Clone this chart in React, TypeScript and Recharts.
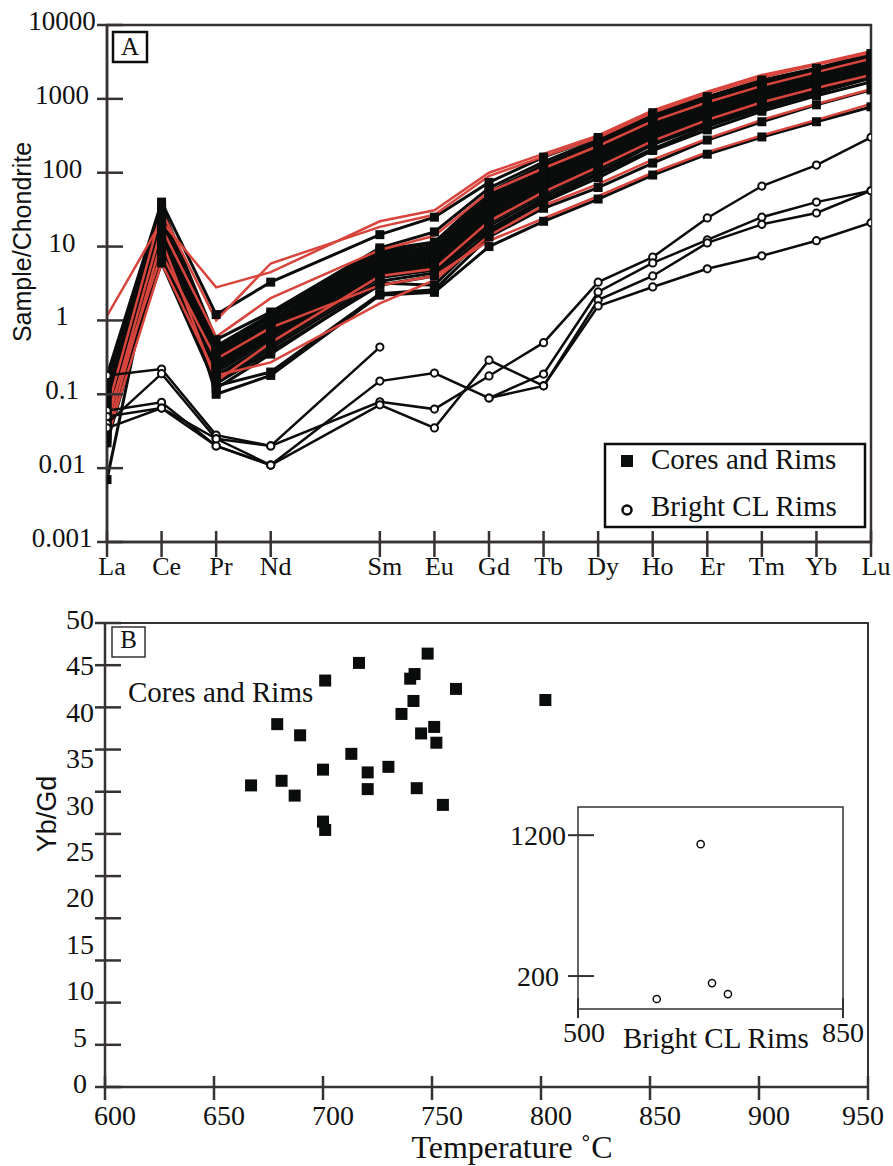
import React from 'react'
import { LineChart, Line, XAxis, YAxis, ScatterChart, Scatter, ReferenceArea } from 'recharts'

// REE pattern (panel A)
const elements = ['La', 'Ce', 'Pr', 'Nd', 'Sm', 'Eu', 'Gd', 'Tb', 'Dy', 'Ho', 'Er', 'Tm', 'Yb', 'Lu']
const elementPos = [0, 1, 2, 3, 5, 6, 7, 8, 9, 10, 11, 12, 13, 14] // gap left for Pm
const yTicksA = [0.001, 0.01, 0.1, 1, 10, 100, 1000, 10000]

const coresAndRims: number[][] = [
  [0.18, 40, 1.2, 3.3, 14.5, 25, 74, 163, 300, 650, 1070, 1800, 2600, 4100],
  [0.15, 35, 0.55, 1.3, 9.6, 15.8, 62, 140, 280, 600, 1000, 1700, 2500, 3900],
  [0.13, 32, 0.45, 1.2, 9.0, 11.5, 55, 128, 260, 570, 960, 1600, 2400, 3700],
  [0.12, 30, 0.42, 1.15, 8.5, 11, 50, 120, 245, 540, 920, 1550, 2300, 3600],
  [0.1, 27, 0.4, 1.1, 8.0, 10, 46, 110, 230, 510, 880, 1500, 2200, 3400],
  [0.09, 25, 0.37, 1.0, 7.5, 9.5, 43, 102, 215, 480, 840, 1420, 2100, 3300],
  [0.08, 22, 0.35, 0.95, 7.0, 9, 40, 96, 200, 450, 800, 1350, 2000, 3100],
  [0.07, 20, 0.33, 0.9, 6.6, 8.5, 37, 90, 190, 430, 760, 1300, 1900, 3000],
  [0.06, 18, 0.3, 0.85, 6.2, 8, 35, 85, 180, 410, 730, 1250, 1850, 2900],
  [0.055, 16, 0.28, 0.8, 5.8, 7.5, 33, 80, 170, 390, 700, 1200, 1800, 2800],
  [0.05, 15, 0.27, 0.75, 5.5, 7, 31, 76, 162, 370, 670, 1150, 1750, 2700],
  [0.045, 14, 0.25, 0.7, 5.2, 6.6, 29, 72, 155, 350, 640, 1100, 1700, 2600],
  [0.04, 13, 0.23, 0.65, 5.0, 6.2, 27, 68, 148, 335, 610, 1060, 1620, 2500],
  [0.035, 12, 0.22, 0.6, 4.7, 5.8, 25, 63, 140, 320, 580, 1000, 1550, 2400],
  [0.03, 11, 0.2, 0.55, 4.4, 5.5, 23, 58, 130, 300, 550, 950, 1480, 2300],
  [0.028, 10, 0.18, 0.5, 4.1, 5.2, 21, 53, 120, 280, 520, 900, 1400, 2200],
  [0.025, 9, 0.17, 0.46, 3.8, 4.8, 19, 48, 110, 260, 490, 850, 1330, 2100],
  [0.022, 8, 0.15, 0.42, 3.4, 4.4, 17, 44, 100, 240, 450, 800, 1250, 2000],
  [0.03, 7, 0.14, 0.38, 3.0, 4.0, 15, 40, 85, 200, 380, 680, 1100, 1700],
  [0.04, 6, 0.13, 0.2, 2.3, 2.6, 13.5, 33, 63, 135, 277, 490, 830, 1320],
  [0.007, 25, 0.1, 0.18, 2.2, 2.4, 10, 22, 44, 93, 178, 305, 490, 780],
  [0.05, 12, 0.12, 0.35, 3.2, 3.0, 16, 42, 95, 210, 420, 740, 1200, 1900],
]

const redLines: number[][] = [
  [1.15, 22, 2.8, 4.5, 22, 31, 100, 180, 320, 700, 1250, 2100, 3000, 4400],
  [0.06, 30, 1.0, 5.9, 18.5, 27, 90, 165, 300, 650, 1180, 1950, 2900, 4200],
  [0.04, 18, 0.6, 2.0, 9, 14, 55, 115, 230, 500, 900, 1500, 2300, 3500],
  [0.03, 12, 0.15, 0.5, 4, 5, 22, 55, 120, 270, 520, 900, 1400, 2100],
  [0.025, 6, 0.18, 0.27, 1.7, 3.5, 14, 36, 70, 150, 290, 520, 850, 1350],
  [0.05, 8, 0.3, 0.8, 3, 4, 12, 24, 48, 100, 190, 320, 520, 850],
]

const brightRims: (number | null)[][] = [
  [0.18, 0.22, 0.028, 0.02, 0.436, null, null, null, null, null, null, null, null, null],
  [0.04, 0.19, 0.025, 0.02, 0.079, 0.063, 0.177, 0.5, 3.3, 7.2, 24.4, 66, 127, 302],
  [0.06, 0.078, 0.02, 0.011, 0.151, 0.194, 0.089, 0.188, 2.43, 6.0, 12.3, 25, 40, 57],
  [0.035, 0.065, 0.02, 0.011, 0.072, 0.035, 0.29, 0.13, 1.89, 4.0, 11.2, 20, 28.5, 57],
  [0.05, 0.065, 0.025, 0.011, null, null, 0.089, 0.13, 1.57, 2.84, 5.0, 7.5, 12, 21],
]

// Yb/Gd vs temperature (panel B)
const tempTicks = [600, 650, 700, 750, 800, 850, 900, 950]
const ratioTicks = [0, 5, 10, 15, 20, 25, 30, 35, 40, 45, 50]
const tickMarksB = [0, 5, 10, 15, 20, 25, 30, 35, 40, 45, 50, 55]
const coresTemp = [667, 679, 681, 687, 689.5, 701, 700, 700, 701, 713, 716.5, 720.5, 720.5, 730, 736, 740, 742, 741.5, 745, 743, 748, 751, 752, 755, 761, 802]
const coresRatio = [32.5, 39.1, 33.0, 31.4, 37.9, 43.8, 34.2, 28.6, 27.7, 35.9, 45.7, 33.9, 32.1, 34.5, 40.2, 44.0, 44.5, 41.6, 38.1, 32.2, 46.7, 38.8, 37.1, 30.4, 42.9, 41.7]

// inset: Bright CL rims
const insetXTicks = [500, 850]
const insetYTicks = [200, 1200]
const rimsTemp = [604, 662, 677, 698]
const rimsValue = [37, 1136, 150, 72]

const INK = '#0b0d0d'
const AXIS = '#363233'
const RED = '#d8453d'
const SERIF = '"Liberation Serif", "Times New Roman", serif'
const SANS = '"Liberation Sans", Arial, sans-serif'

const reeRows = elements.map((_, i) => {
  const row: Record<string, number | null> = { x: elementPos[i] }
  coresAndRims.forEach((s, j) => (row['core' + j] = s[i]))
  redLines.forEach((s, j) => (row['red' + j] = s[i]))
  brightRims.forEach((s, j) => (row['rim' + j] = s[i]))
  return row
})
const coreRows = coresTemp.map((t, i) => ({ x: t, y: coresRatio[i] }))
const rimRows = rimsTemp.map((t, i) => ({ x: t, y: rimsValue[i] }))

const LogTick = (p: any) => {
  const { x, y, payload } = p
  return (
    <g>
      <line x1={x - 10} x2={x + 16} y1={y} y2={y} stroke={AXIS} strokeWidth={2.5} />
      <text x={x - 45} y={y + 5} textAnchor="middle" fontFamily={SERIF} fontSize={27} fill="#111">
        {String(payload.value)}
      </text>
    </g>
  )
}

const ReeTick = (p: any) => {
  const { x, y, payload } = p
  const name = elements[elementPos.indexOf(payload.value)]
  return (
    <g>
      <line x1={x} x2={x} y1={y - 11} y2={y + 15} stroke={AXIS} strokeWidth={2.5} />
      <text x={x + 5} y={y + 33} textAnchor="middle" fontFamily={SERIF} fontSize={26} fill="#111">
        {name}
      </text>
    </g>
  )
}

const TempTick = (p: any) => {
  const { x, y, payload } = p
  return (
    <g>
      <line x1={x} x2={x} y1={y - 11} y2={y + 13} stroke={AXIS} strokeWidth={2.5} />
      <text x={payload.value === 950 ? x - 5 : x + 10} y={y + 38} textAnchor="middle" fontFamily={SERIF} fontSize={28} fill="#111">
        {payload.value}
      </text>
    </g>
  )
}

const MarkTick = (p: any) => {
  const { x, y } = p
  return <line x1={x - 10} x2={x + 16} y1={y} y2={y} stroke={AXIS} strokeWidth={2.5} />
}

const RatioTick = (p: any) => {
  const { x, y, payload } = p
  return (
    <text x={x - 24} y={y + 6} textAnchor="middle" fontFamily={SERIF} fontSize={28} fill="#111">
      {payload.value}
    </text>
  )
}

const InsetYTick = (p: any) => {
  const { x, y, payload } = p
  return (
    <g>
      <line x1={x - 10} x2={x + 16} y1={y} y2={y} stroke={AXIS} strokeWidth={2} />
      <text x={x - 40} y={y + 10} textAnchor="middle" fontFamily={SERIF} fontSize={28} fill="#111">
        {payload.value}
      </text>
    </g>
  )
}

const InsetXTick = (p: any) => {
  const { x, y, payload } = p
  return (
    <g>
      <line x1={x} x2={x} y1={y - 11} y2={y + 9} stroke={AXIS} strokeWidth={2} />
      <text x={payload.value === 500 ? x + 6 : x} y={y + 33} textAnchor="middle" fontFamily={SERIF} fontSize={28} fill="#111">
        {payload.value}
      </text>
    </g>
  )
}

const SquareDot = (p: any) => {
  const { cx, cy } = p
  if (cx == null || cy == null) return <g />
  return <rect x={cx - 4.5} y={cy - 4.5} width={9} height={9} fill={INK} />
}

const CircleDot = (p: any) => {
  const { cx, cy } = p
  if (cx == null || cy == null) return <g />
  return <circle cx={cx} cy={cy} r={3.6} fill="#fff" stroke={INK} strokeWidth={2} />
}

const SquareMark = (p: any) => <rect x={p.cx - 6} y={p.cy - 6} width={12} height={12} fill={INK} />
const OpenMark = (p: any) => <circle cx={p.cx} cy={p.cy} r={3.6} fill="#fff" stroke={INK} strokeWidth={1.5} />

export default function App() {
  return (
    <div style={{ position: 'absolute', left: 0, top: 0, width: 893, height: 1166, background: '#fff' }}>
      <div style={{ position: 'absolute', left: 0, top: 0 }}>
        <LineChart width={893} height={590} data={reeRows} margin={{ top: 25, right: 22, bottom: 8, left: 47 }}>
          <XAxis
            type="number"
            dataKey="x"
            domain={[0, 14]}
            ticks={elementPos}
            interval={0}
            allowDataOverflow
            height={40}
            tickSize={0}
            tickMargin={0}
            tickLine={false}
            axisLine={{ stroke: AXIS, strokeWidth: 2.5 }}
            tick={ReeTick}
          />
          <YAxis
            type="number"
            scale="log"
            domain={[0.001, 10000]}
            ticks={yTicksA}
            interval={0}
            allowDataOverflow
            width={60}
            tickSize={0}
            tickMargin={0}
            tickLine={false}
            axisLine={{ stroke: AXIS, strokeWidth: 2.5 }}
            tick={LogTick}
          />
          <ReferenceArea x1={0} x2={14} y1={0.001} y2={10000} fill="none" stroke={AXIS} strokeWidth={2.5} ifOverflow="visible" />
          {coresAndRims.map((_, j) => (
            <Line key={'core' + j} dataKey={'core' + j} stroke={INK} strokeWidth={3} dot={SquareDot} isAnimationActive={false} />
          ))}
          {redLines.map((_, j) => (
            <Line key={'red' + j} dataKey={'red' + j} stroke={RED} strokeWidth={2.5} dot={false} isAnimationActive={false} />
          ))}
          {brightRims.map((_, j) => (
            <Line key={'rim' + j} dataKey={'rim' + j} stroke={INK} strokeWidth={2.5} dot={CircleDot} isAnimationActive={false} />
          ))}
        </LineChart>
      </div>

      <div style={{ position: 'absolute', left: 0, top: 580 }}>
        <ScatterChart width={893} height={586} margin={{ top: 43, right: 25, bottom: 39, left: 44 }}>
          <XAxis
            type="number"
            dataKey="x"
            domain={[600, 950]}
            ticks={tempTicks}
            interval={0}
            allowDataOverflow
            height={40}
            tickSize={0}
            tickMargin={0}
            tickLine={false}
            axisLine={{ stroke: AXIS, strokeWidth: 2.5 }}
            tick={TempTick}
          />
          <YAxis
            yAxisId="marks"
            type="number"
            domain={[0, 55]}
            ticks={tickMarksB}
            interval={0}
            allowDataOverflow
            width={1}
            tickSize={0}
            tickMargin={0}
            tickLine={false}
            axisLine={{ stroke: AXIS, strokeWidth: 2.5 }}
            tick={MarkTick}
          />
          <YAxis
            yAxisId="ratio"
            type="number"
            dataKey="y"
            domain={[0, 50]}
            ticks={ratioTicks}
            interval={0}
            allowDataOverflow
            width={60}
            tickSize={0}
            tickMargin={0}
            tickLine={false}
            axisLine={false}
            tick={RatioTick}
          />
          <ReferenceArea yAxisId="ratio" x1={600} x2={950} y1={0} y2={50} fill="none" stroke={AXIS} strokeWidth={2} ifOverflow="visible" />
          <Scatter yAxisId="ratio" data={coreRows} shape={SquareMark} isAnimationActive={false} />
        </ScatterChart>
      </div>

      <div style={{ position: 'absolute', left: 490, top: 795 }}>
        <ScatterChart width={400} height={260} margin={{ top: 12, right: 47, bottom: 16, left: 0 }}>
          <XAxis
            type="number"
            dataKey="x"
            domain={[500, 850]}
            ticks={insetXTicks}
            interval={0}
            allowDataOverflow
            height={30}
            tickSize={0}
            tickMargin={0}
            tickLine={false}
            axisLine={false}
            tick={InsetXTick}
          />
          <YAxis
            type="number"
            dataKey="y"
            domain={[-34, 1400]}
            ticks={insetYTicks}
            interval={0}
            allowDataOverflow
            width={88}
            tickSize={0}
            tickMargin={0}
            tickLine={false}
            axisLine={false}
            tick={InsetYTick}
          />
          <ReferenceArea x1={500} x2={850} y1={-34} y2={1400} fill="none" stroke={AXIS} strokeWidth={1.5} ifOverflow="visible" />
          <Scatter data={rimRows} shape={OpenMark} isAnimationActive={false} />
        </ScatterChart>
      </div>

      <svg width={893} height={1166} style={{ position: 'absolute', left: 0, top: 0, pointerEvents: 'none' }}>
        <rect x={113} y={32} width={34} height={30} fill="#fff" stroke={INK} strokeWidth={2.5} />
        <text x={130} y={55} textAnchor="middle" fontFamily={SERIF} fontSize={25} fill="#111">A</text>
        <rect x={112} y={627} width={33} height={30} fill="#fff" stroke={AXIS} strokeWidth={1.5} />
        <text x={128.5} y={648} textAnchor="middle" fontFamily={SERIF} fontSize={25} fill="#111">B</text>

        <rect x={605} y={444} width={260} height={83} fill="#fff" stroke={INK} strokeWidth={2.5} />
        <rect x={621} y={455} width={12} height={12} fill={INK} />
        <text x={651} y={469} fontFamily={SERIF} fontSize={29} fill="#111">Cores and Rims</text>
        <circle cx={627} cy={510} r={4.5} fill="#fff" stroke={INK} strokeWidth={2.5} />
        <text x={651} y={516} fontFamily={SERIF} fontSize={29} fill="#111">Bright CL Rims</text>

        <text x={22} y={242} transform="rotate(-90 22 242)" textAnchor="middle" dominantBaseline="central" fontFamily={SANS} fontSize={25} fill="#111">Sample/Chondrite</text>
        <text x={47} y={814} transform="rotate(-90 47 814)" textAnchor="middle" dominantBaseline="central" fontFamily={SANS} fontSize={27} fill="#111">Yb/Gd</text>
        <text x={512} y={1158} textAnchor="middle" fontFamily={SERIF} fontSize={32} fill="#111">Temperature ˚C</text>
        <text x={128} y={702} fontFamily={SERIF} fontSize={29} fill="#111">Cores and Rims</text>
        <text x={623} y={1048} fontFamily={SERIF} fontSize={29} fill="#111">Bright CL Rims</text>
      </svg>
    </div>
  )
}
